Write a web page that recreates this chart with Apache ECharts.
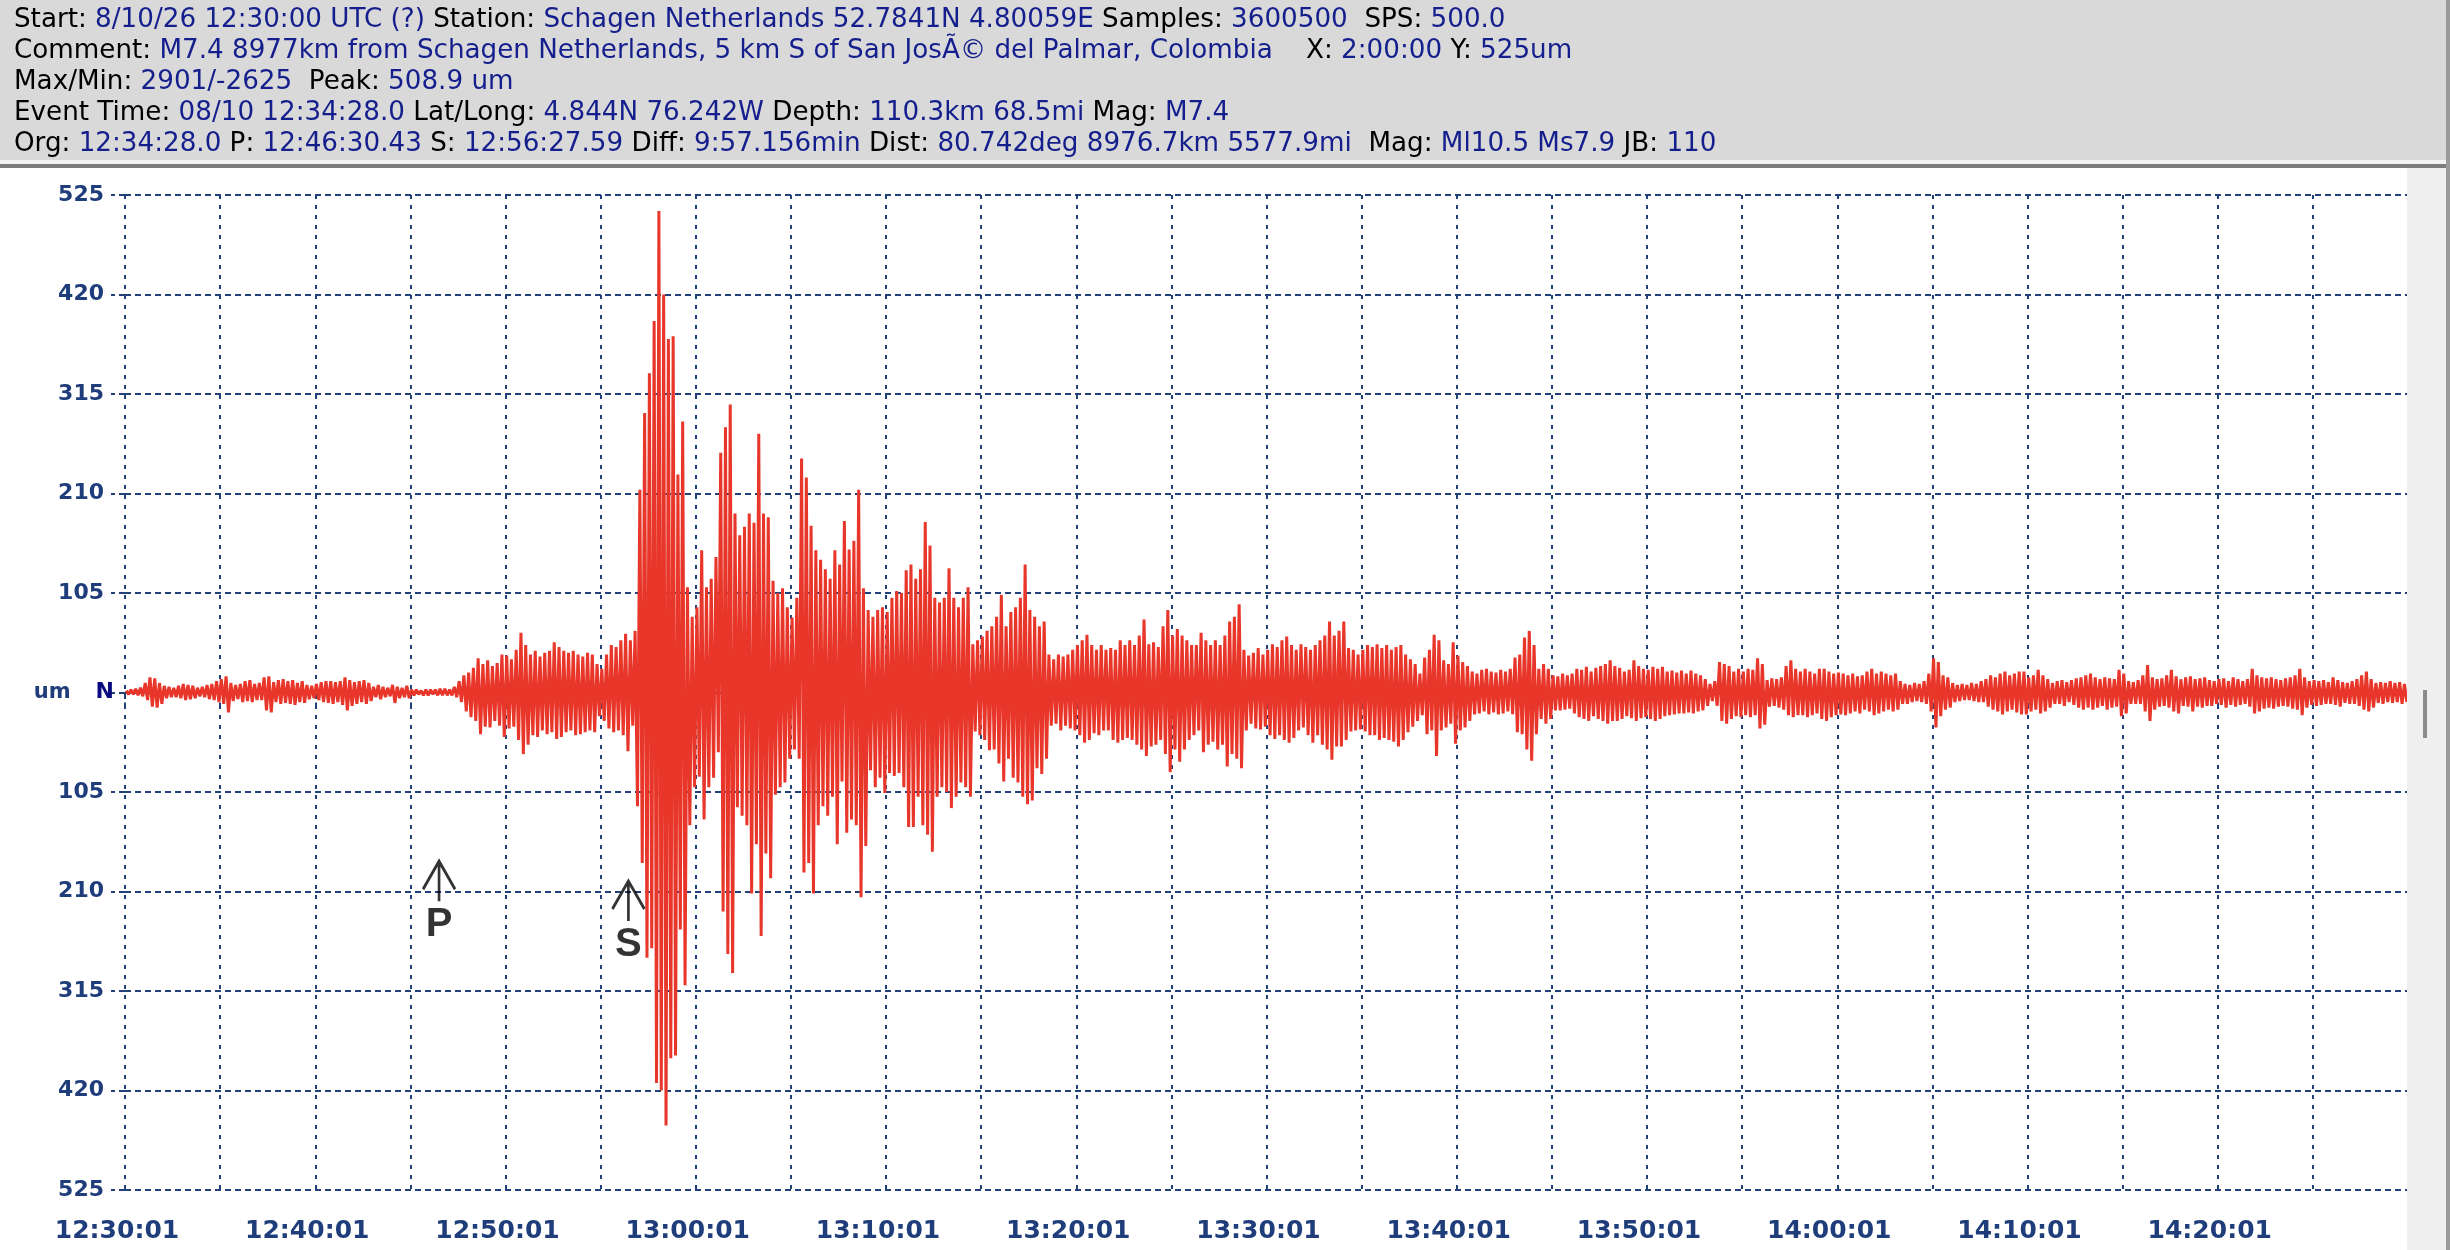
<!DOCTYPE html>
<html><head><meta charset="utf-8">
<script src="https://cdn.jsdelivr.net/npm/echarts@6/dist/echarts.min.js"></script>
<style>html,body{margin:0;padding:0;background:#fff;}#c{width:2450px;height:1250px;}</style>
</head><body><div id="c"></div>
<script>
// ---- data ----
const binSeconds = 15; // each value = extreme of a 15 s window, starting 12:30:00
const traceHigh = [
2,3,4,5,10,16,15,10,7,6,5,7,9,8,7,5,6,8,9,12,
14,17,10,8,9,12,13,9,10,16,17,11,13,14,12,13,10,12,8,7,
9,11,12,12,11,12,16,13,11,12,13,10,6,8,6,5,8,6,5,7,
3,3,2,3,3,3,4,4,3,6,12,18,21,26,36,30,34,28,31,40,
39,35,45,63,50,40,44,38,42,44,53,48,44,42,44,40,38,42,40,30,
25,40,50,48,55,62,55,65,214,295,337,392,508,420,373,376,230,286,111,80,
90,150,111,120,143,253,280,304,189,166,175,189,179,273,189,185,118,105,110,90,
79,100,247,227,176,150,140,130,120,150,135,181,151,160,214,110,87,80,87,90,
85,100,107,105,129,135,120,130,180,155,100,95,100,131,100,90,100,111,51,55,
59,65,70,80,103,70,85,90,100,135,87,80,70,75,40,35,40,38,40,45,
50,55,61,50,45,50,45,47,45,55,50,55,50,60,77,51,53,48,70,87,
60,67,60,55,50,50,63,55,50,55,50,60,75,80,93,45,39,42,47,40,
45,51,48,55,59,50,45,51,48,45,50,55,60,75,60,65,75,47,45,40,
45,50,48,51,47,50,45,48,50,40,35,30,20,37,45,61,55,34,30,53,
39,32,28,22,20,24,25,22,21,24,22,25,37,40,58,65,50,25,30,25,
18,17,20,18,20,25,24,27,22,26,28,30,34,28,26,22,24,34,28,25,
24,27,25,27,22,23,21,23,20,23,20,18,14,9,12,32,30,28,22,25,
22,25,24,36,30,13,15,14,16,28,34,25,22,25,22,20,25,25,22,20,
21,20,18,20,17,18,22,25,20,22,20,18,20,12,9,8,10,9,12,20,
36,32,18,16,10,8,9,8,10,9,12,14,18,16,20,22,18,20,22,22,
16,18,24,18,14,10,12,13,11,13,15,16,18,20,16,14,16,15,14,24,
20,12,11,13,18,29,16,14,15,18,24,17,14,16,17,14,15,16,13,12,
14,15,12,16,14,12,14,25,18,16,15,16,14,13,15,16,18,25,16,12,
13,12,13,11,16,13,11,10,12,14,18,22,14,10,11,10,12,10,11,9
];
const traceLow = [
-2,-2,-3,-4,-8,-15,-16,-12,-6,-5,-5,-6,-8,-7,-6,-4,-5,-7,-8,-10,
-12,-21,-9,-7,-10,-9,-10,-8,-8,-19,-21,-10,-12,-11,-12,-13,-10,-11,-7,-6,
-8,-10,-11,-12,-10,-13,-19,-14,-12,-10,-12,-9,-5,-7,-5,-4,-11,-6,-5,-6,
-3,-2,-3,-3,-2,-3,-3,-3,-3,-5,-10,-20,-26,-30,-44,-36,-37,-30,-35,-47,
-38,-36,-50,-65,-55,-45,-47,-40,-44,-42,-49,-47,-42,-40,-45,-44,-42,-40,-42,-25,
-30,-38,-42,-40,-45,-62,-35,-120,-180,-280,-270,-412,-420,-457,-386,-383,-250,-309,-140,-100,
-89,-134,-100,-90,-63,-231,-276,-296,-121,-130,-140,-212,-160,-257,-170,-196,-108,-100,-95,-70,
-60,-70,-190,-180,-212,-140,-120,-130,-110,-160,-94,-148,-134,-140,-216,-162,-82,-100,-90,-106,
-85,-88,-85,-100,-142,-142,-110,-140,-150,-168,-110,-100,-105,-122,-110,-95,-100,-110,-41,-45,
-50,-61,-60,-75,-94,-70,-90,-95,-110,-118,-114,-80,-86,-70,-35,-33,-40,-35,-38,-40,
-45,-53,-50,-43,-45,-40,-40,-50,-53,-50,-48,-50,-55,-60,-67,-57,-55,-50,-65,-84,
-60,-73,-60,-50,-45,-40,-63,-55,-52,-60,-55,-78,-65,-70,-80,-40,-33,-38,-39,-36,
-45,-49,-45,-50,-53,-48,-40,-37,-45,-53,-45,-55,-60,-71,-57,-57,-50,-41,-40,-39,
-41,-45,-45,-50,-48,-50,-52,-57,-50,-42,-36,-30,-24,-44,-40,-67,-40,-37,-33,-54,
-40,-37,-30,-23,-22,-20,-23,-21,-23,-22,-20,-23,-42,-44,-60,-72,-44,-28,-33,-28,
-19,-19,-18,-17,-22,-26,-28,-30,-25,-28,-30,-33,-30,-30,-28,-25,-27,-30,-27,-26,
-28,-30,-28,-25,-24,-23,-22,-22,-21,-22,-20,-19,-14,-9,-14,-30,-33,-28,-25,-26,
-24,-26,-24,-38,-34,-15,-14,-16,-18,-24,-26,-24,-24,-26,-24,-22,-28,-30,-26,-24,
-23,-24,-22,-20,-22,-18,-20,-24,-22,-20,-18,-20,-18,-12,-12,-10,-9,-10,-12,-20,
-37,-25,-18,-16,-10,-9,-8,-8,-9,-10,-10,-15,-18,-20,-23,-20,-18,-21,-23,-23,
-20,-18,-22,-20,-16,-12,-12,-14,-10,-13,-16,-18,-16,-18,-16,-14,-18,-16,-15,-25,
-22,-12,-12,-12,-20,-30,-18,-15,-14,-16,-20,-22,-14,-15,-20,-15,-16,-14,-14,-12,
-13,-16,-13,-15,-13,-12,-15,-22,-20,-17,-16,-17,-15,-14,-15,-17,-18,-24,-16,-13,
-14,-13,-12,-12,-13,-15,-11,-12,-12,-14,-18,-20,-16,-11,-12,-10,-11,-10,-12,-10
];
const xTickLabels = ['12:30:01','12:40:01','12:50:01','13:00:01','13:10:01','13:20:01',
  '13:30:01','13:40:01','13:50:01','14:00:01','14:10:01','14:20:01'];
const yTickLabels = ['525','420','315','210','105','N','105','210','315','420','525'];
const phaseNames = ['P','S'];
const phaseTimes = [990.43, 1587.59];      // seconds after 12:30:00
const phaseMarkLevels = [-178, -199];      // um, arrow tip
const headerLines = [
  [['k','Start: '],['v','8/10/26 12:30:00 UTC (?)'],['k',' Station: '],['v','Schagen Netherlands 52.7841N 4.80059E'],['k',' Samples: '],['v','3600500'],['k','  SPS: '],['v','500.0']],
  [['k','Comment: '],['v','M7.4 8977km from Schagen Netherlands, 5 km S of San JosÃ© del Palmar, Colombia'],['k','    X: '],['v','2:00:00'],['k',' Y: '],['v','525um']],
  [['k','Max/Min: '],['v','2901/-2625'],['k','  Peak: '],['v','508.9 um']],
  [['k','Event Time: '],['v','08/10 12:34:28.0'],['k',' Lat/Long: '],['v','4.844N 76.242W'],['k',' Depth: '],['v','110.3km 68.5mi'],['k',' Mag: '],['v','M7.4']],
  [['k','Org: '],['v','12:34:28.0'],['k',' P: '],['v','12:46:30.43'],['k',' S: '],['v','12:56:27.59'],['k',' Diff: '],['v','9:57.156min'],['k',' Dist: '],['v','80.742deg 8976.7km 5577.9mi'],['k','  Mag: '],['v','Ml10.5 Ms7.9'],['k',' JB: '],['v','110']]
];

// ---- build ----
const trace = [];
for (let i = 0; i < traceHigh.length; i++) {
  trace.push([i * binSeconds + 3.75, traceHigh[i]]);
  trace.push([i * binSeconds + 11.25, traceLow[i]]);
}
const phases = phaseNames.map((n, i) => ({name: n, value: [phaseTimes[i], phaseMarkLevels[i]]}));
const headerText = headerLines.map(l => l.map(s => '{' + s[0] + '|' + s[1] + '}').join('')).join('\n');

const gridColor = '#22407a';
const labelColor = '#1f3d7a';
const hdrFont = {fontFamily: 'DejaVu Sans', fontSize: 26.2, lineHeight: 31};

const chart = echarts.init(document.getElementById('c'), null, {renderer: 'canvas'});
chart.setOption({
  animation: false,
  backgroundColor: '#ffffff',
  graphic: [
    {type: 'rect', z: 0, shape: {x: 0, y: 0, width: 2450, height: 160}, style: {fill: '#d9d9d9'}},
    {type: 'rect', z: 0, shape: {x: 0, y: 160, width: 2450, height: 4}, style: {fill: '#f3f3f3'}},
    {type: 'rect', z: 0, shape: {x: 0, y: 164, width: 2450, height: 4}, style: {fill: '#7c7c7c'}},
    {type: 'rect', z: 50, shape: {x: 2407, y: 168, width: 40, height: 1082}, style: {fill: '#efefef'}},
    {type: 'rect', z: 51, shape: {x: 2446, y: 0, width: 4, height: 1250}, style: {fill: '#9a9a9a'}},
    {type: 'rect', z: 51, shape: {x: 2423, y: 690, width: 4, height: 48}, style: {fill: '#8c8c8c'}}
  ],
  title: {
    text: headerText, left: 9, top: 0, z: 10,
    textStyle: Object.assign({color: '#000', fontWeight: 'normal', rich: {
      k: Object.assign({color: '#000000'}, hdrFont),
      v: Object.assign({color: '#141e8c'}, hdrFont)
    }}, hdrFont)
  },
  grid: {left: 125, right: 42, top: 195, bottom: 60},
  xAxis: {
    type: 'value', min: 0, max: 7200, interval: 300,
    axisLine: {show: false},
    axisTick: {show: true, length: 14, lineStyle: {color: gridColor, width: 2, type: [5, 5]}},
    axisLabel: {
      margin: 29, showMaxLabel: false,
      formatter: v => (v % 600 === 0 && xTickLabels[v / 600]) ? '{t|' + xTickLabels[v / 600] + '}' : '',
      rich: {t: {color: labelColor, fontFamily: 'DejaVu Sans', fontWeight: 'bold', fontSize: 25, padding: [0, 16, 0, 0]}}
    },
    splitLine: {show: true, showMinLine: true, showMaxLine: false, lineStyle: {color: gridColor, width: 2, type: [4, 6]}}
  },
  yAxis: {
    type: 'value', min: -525, max: 525, interval: 105,
    axisLine: {show: false},
    axisTick: {show: true, length: 14, lineStyle: {color: gridColor, width: 2, type: [6, 4]}},
    axisLabel: {
      margin: 11,
      formatter: v => {
        const s = yTickLabels[Math.round((525 - v) / 105)];
        return s === 'N' ? '{u|um}{n|N}' : '{a|' + s + '}';
      },
      rich: {
        a: {color: labelColor, fontFamily: 'DejaVu Sans', fontWeight: 'bold', fontSize: 22, padding: [0, 10, 0, 0]},
        u: {color: labelColor, fontFamily: 'DejaVu Sans', fontWeight: 'bold', fontSize: 21, padding: [0, 25, 0, 0]},
        n: {color: '#0a0a80', fontFamily: 'DejaVu Sans', fontWeight: 'bold', fontSize: 22}
      }
    },
    splitLine: {show: true, showMinLine: true, showMaxLine: true, lineStyle: {color: gridColor, width: 2, type: [6, 4]}}
  },
  series: [
    {
      type: 'line', data: trace, symbol: 'none', showSymbol: false, sampling: false,
      lineStyle: {color: '#e8372a', width: 3}, z: 3, silent: true
    },
    {
      type: 'scatter', data: phases, z: 5,
      symbol: 'path://M0 40 L0 0 M-16 28 L0 0 L16 28',
      symbolSize: [32, 40], symbolOffset: [0, '50%'],
      itemStyle: {color: 'rgba(0,0,0,0)', borderColor: '#000000', borderWidth: 3},
      label: {show: true, position: 'bottom', distance: 2, formatter: p => p.name,
        color: '#000', fontFamily: 'Liberation Sans', fontWeight: 'bold', fontSize: 40}
    }
  ]
});
</script></body></html>
